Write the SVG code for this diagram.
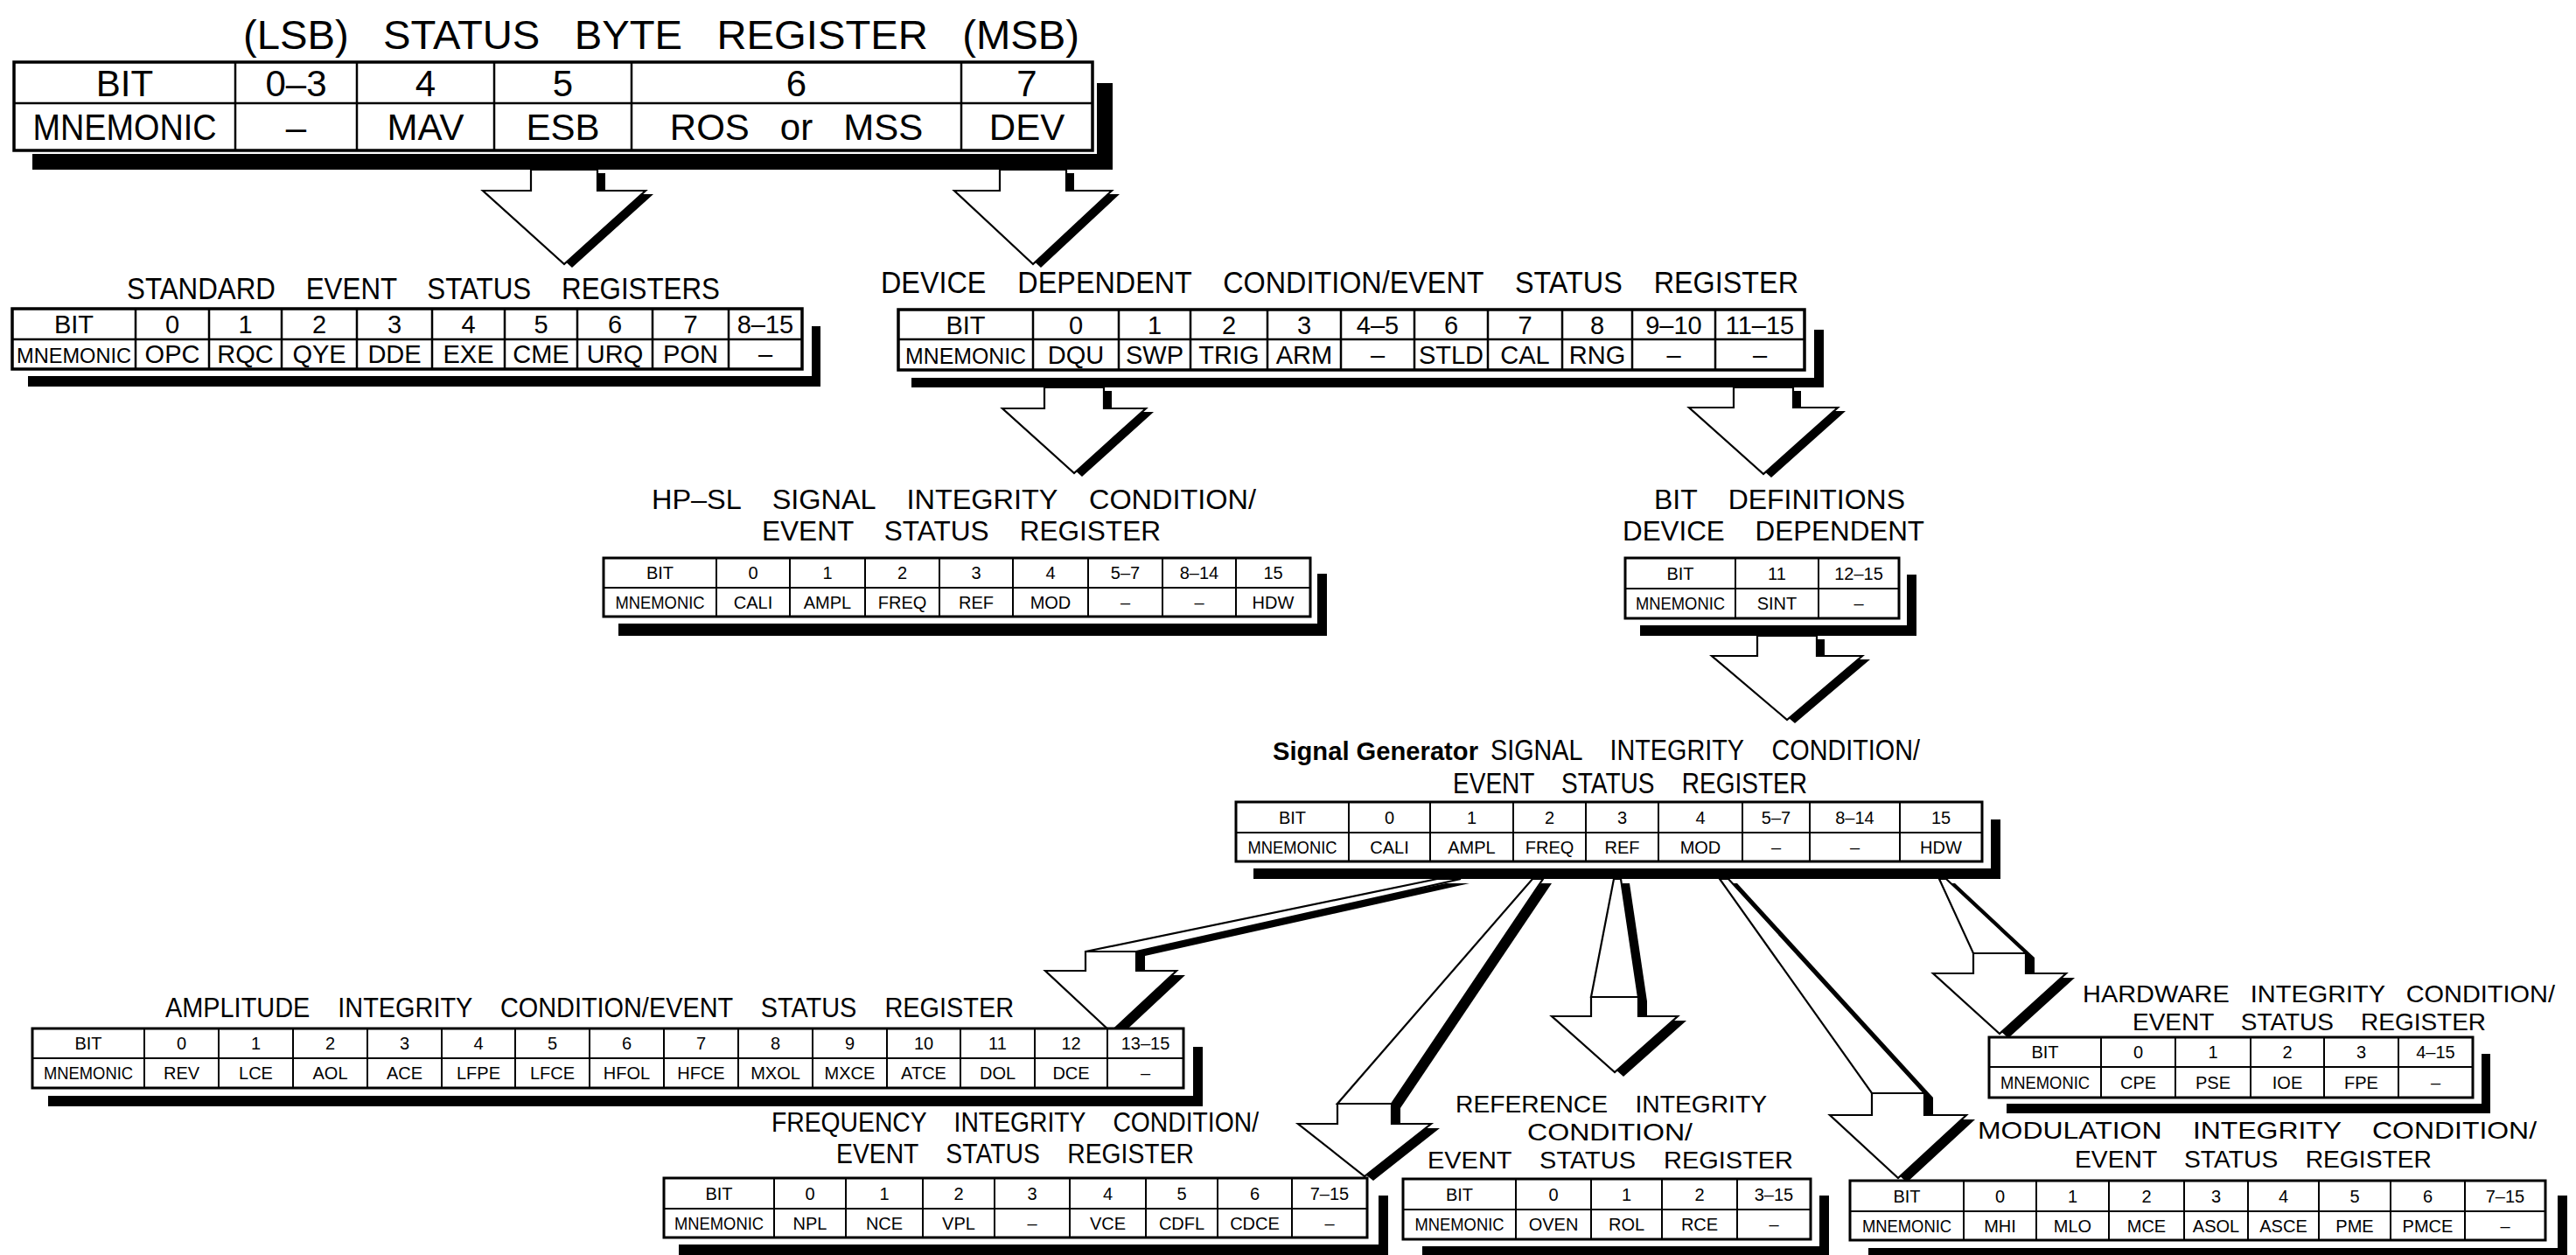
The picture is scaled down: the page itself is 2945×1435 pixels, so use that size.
<svg xmlns="http://www.w3.org/2000/svg" width="2945" height="1435" viewBox="0 0 2945 1435">
<style>
text{font-family:"Liberation Sans",Arial,Helvetica,sans-serif;fill:#000}
.ti{white-space:pre}
.c{text-anchor:middle}
.f42{font-size:42px}
.f29{font-size:29px}
.f20{font-size:20px}
.box{fill:#fff;stroke:#000;stroke-width:3.5}
.bx2{fill:#fff;stroke:#000;stroke-width:3}
.ln{stroke:#000;stroke-width:2.5;fill:none}
.ln2{stroke:#000;stroke-width:2;fill:none}
.sh{fill:#000}
.ar{fill:#fff;stroke:#000;stroke-width:2.2;stroke-linejoin:miter}
</style>
<rect width="2945" height="1435" fill="#fff"/>

<g id="connectors">
  <g class="sh">
    <polygon points="616,198 692,198 692,222 747,222 654,306 561,222 616,222"/>
    <polygon points="1152,198 1228,198 1228,222 1280,222 1190,306 1100,222 1152,222"/>
    <polygon points="1203,447 1271,447 1271,471 1319,471 1237,545 1155,471 1203,471"/>
    <polygon points="1991,447 2059,447 2059,470 2110,470 2025,546 1940,470 1991,470"/>
    <polygon points="2018,731 2086,731 2086,754 2138,754 2052,827 1966,754 2018,754"/>
    <polygon points="1653,1010 1680,1010 1309,1093 1251,1093"/>
    <polygon points="1251,1093 1309,1093 1309,1115 1355,1115 1280,1185 1205,1115 1251,1115"/>
    <polygon points="1762,1010 1774,1010 1601,1267 1539,1267"/>
    <polygon points="1539,1267 1601,1267 1601,1290 1646,1290 1570,1350 1494,1290 1539,1290"/>
    <polygon points="1855,1010 1863,1010 1883,1145 1829,1145"/>
    <polygon points="1829,1145 1883,1145 1883,1167 1928,1167 1856,1231 1784,1167 1829,1167"/>
    <polygon points="1976,1010 1986,1010 2210,1255 2150,1255"/>
    <polygon points="2150,1255 2210,1255 2210,1280 2258,1280 2180,1352 2102,1280 2150,1280"/>
    <polygon points="2227,1010 2235,1010 2326,1095 2266,1095"/>
    <polygon points="2266,1095 2326,1095 2326,1118 2372,1118 2296,1187 2220,1118 2266,1118"/>
  </g>
  <polygon class="ar" points="607,194 683,194 683,218 738,218 645,302 552,218 607,218"/>
  <polygon class="ar" points="1143,194 1219,194 1219,218 1271,218 1181,302 1091,218 1143,218"/>
  <polygon class="ar" points="1194,443 1262,443 1262,467 1310,467 1228,541 1146,467 1194,467"/>
  <polygon class="ar" points="1982,443 2050,443 2050,466 2101,466 2016,542 1931,466 1982,466"/>
  <polygon class="ar" points="2009,727 2077,727 2077,750 2129,750 2043,823 1957,750 2009,750"/>
  <polygon class="ar" points="1643,1005 1670,1005 1299,1088 1241,1088"/>
  <polygon class="ar" points="1241,1088 1299,1088 1299,1110 1345,1110 1270,1180 1195,1110 1241,1110"/>
  <polygon class="ar" points="1752,1005 1764,1005 1591,1262 1529,1262"/>
  <polygon class="ar" points="1529,1262 1591,1262 1591,1285 1636,1285 1560,1345 1484,1285 1529,1285"/>
  <polygon class="ar" points="1845,1005 1853,1005 1873,1140 1819,1140"/>
  <polygon class="ar" points="1819,1140 1873,1140 1873,1162 1918,1162 1846,1226 1774,1162 1819,1162"/>
  <polygon class="ar" points="1966,1005 1976,1005 2200,1250 2140,1250"/>
  <polygon class="ar" points="2140,1250 2200,1250 2200,1275 2248,1275 2170,1347 2092,1275 2140,1275"/>
  <polygon class="ar" points="2217,1005 2225,1005 2316,1090 2256,1090"/>
  <polygon class="ar" points="2256,1090 2316,1090 2316,1113 2362,1113 2286,1182 2210,1113 2256,1113"/>
</g>

<g id="status-byte-register">
  <text class="ti" x="278" y="56" font-size="46" textLength="956" lengthAdjust="spacingAndGlyphs" xml:space="preserve">(LSB)   STATUS   BYTE   REGISTER   (MSB)</text>
  <polygon class="sh" points="1254,95 1272,95 1272,194 37,194 37,176 1254,176"/>
  <rect class="box" x="16" y="71" width="1233" height="101"/>
  <path class="ln" d="M16 118H1249M269 71V172M408 71V172M565 71V172M722 71V172M1099 71V172"/>
  <g class="c f42">
    <text x="142.5" y="110">BIT</text><text x="338.5" y="110">0–3</text><text x="486.5" y="110">4</text><text x="643.5" y="110">5</text><text x="910.5" y="110">6</text><text x="1174" y="110">7</text>
    <text x="142.5" y="160" textLength="210" lengthAdjust="spacingAndGlyphs">MNEMONIC</text><text x="338.5" y="160">–</text><text x="486.5" y="160">MAV</text><text x="643.5" y="160">ESB</text><text x="910.5" y="160" xml:space="preserve" class="ti">ROS   or   MSS</text><text x="1174" y="160">DEV</text>
  </g>
</g>

<g id="standard-event-status">
  <text class="ti" x="145" y="342" font-size="35" textLength="678" lengthAdjust="spacingAndGlyphs" xml:space="preserve">STANDARD    EVENT    STATUS    REGISTERS</text>
  <polygon class="sh" points="928,373 938,373 938,442 32,442 32,430 928,430"/>
  <rect class="box" x="14" y="353" width="903" height="69"/>
  <path class="ln" d="M14 388H917M155 353V422M239 353V422M322 353V422M408 353V422M494 353V422M577 353V422M660 353V422M746 353V422M833 353V422"/>
  <g class="c f29">
    <text x="84.5" y="381">BIT</text><text x="197" y="381">0</text><text x="280.5" y="381">1</text><text x="365" y="381">2</text><text x="451" y="381">3</text><text x="535.5" y="381">4</text><text x="618.5" y="381">5</text><text x="703" y="381">6</text><text x="789.5" y="381">7</text><text x="875" y="381">8–15</text>
    <text x="84.5" y="415" font-size="24" textLength="131" lengthAdjust="spacingAndGlyphs">MNEMONIC</text><text x="197" y="415">OPC</text><text x="280.5" y="415">RQC</text><text x="365" y="415">QYE</text><text x="451" y="415">DDE</text><text x="535.5" y="415">EXE</text><text x="618.5" y="415">CME</text><text x="703" y="415">URQ</text><text x="789.5" y="415">PON</text><text x="875" y="415">–</text>
  </g>
</g>

<g id="device-dependent">
  <text class="ti" x="1007" y="335" font-size="35" textLength="1049" lengthAdjust="spacingAndGlyphs" xml:space="preserve">DEVICE    DEPENDENT    CONDITION/EVENT    STATUS    REGISTER</text>
  <polygon class="sh" points="2074,377 2085,377 2085,443 1042,443 1042,432 2074,432"/>
  <rect class="box" x="1027" y="354" width="1036" height="69"/>
  <path class="ln" d="M1027 388H2063M1181 354V423M1279 354V423M1361 354V423M1449 354V423M1533 354V423M1617 354V423M1701 354V423M1786 354V423M1866 354V423M1961 354V423"/>
  <g class="c f29">
    <text x="1104" y="381.5">BIT</text><text x="1230" y="381.5">0</text><text x="1320" y="381.5">1</text><text x="1405" y="381.5">2</text><text x="1491" y="381.5">3</text><text x="1575" y="381.5">4–5</text><text x="1659" y="381.5">6</text><text x="1743.5" y="381.5">7</text><text x="1826" y="381.5">8</text><text x="1913.5" y="381.5">9–10</text><text x="2012" y="381.5">11–15</text>
    <text x="1104" y="416" font-size="25" textLength="138" lengthAdjust="spacingAndGlyphs">MNEMONIC</text><text x="1230" y="416">DQU</text><text x="1320" y="416">SWP</text><text x="1405" y="416">TRIG</text><text x="1491" y="416">ARM</text><text x="1575" y="416">–</text><text x="1659" y="416">STLD</text><text x="1743.5" y="416">CAL</text><text x="1826" y="416">RNG</text><text x="1913.5" y="416">–</text><text x="2012" y="416">–</text>
  </g>
</g>

<g id="hpsl-signal-integrity">
  <text class="ti" x="745" y="582" font-size="31" textLength="691" lengthAdjust="spacingAndGlyphs" xml:space="preserve">HP–SL    SIGNAL    INTEGRITY    CONDITION/</text>
  <text class="ti" x="871" y="618" font-size="31" textLength="456" lengthAdjust="spacingAndGlyphs" xml:space="preserve">EVENT    STATUS    REGISTER</text>
  <polygon class="sh" points="1506,656 1517,656 1517,727 707,727 707,713 1506,713"/>
  <rect class="bx2" x="690" y="638" width="808" height="67"/>
  <path class="ln2" d="M690 672H1498M819 638V705M903 638V705M989 638V705M1074 638V705M1158 638V705M1244 638V705M1329 638V705M1413 638V705"/>
  <g class="c f20">
    <text x="754.5" y="662">BIT</text><text x="861" y="662">0</text><text x="946" y="662">1</text><text x="1031.5" y="662">2</text><text x="1116" y="662">3</text><text x="1201" y="662">4</text><text x="1286.5" y="662">5–7</text><text x="1371" y="662">8–14</text><text x="1455.5" y="662">15</text>
    <text x="754.5" y="695.5" textLength="102" lengthAdjust="spacingAndGlyphs">MNEMONIC</text><text x="861" y="695.5">CALI</text><text x="946" y="695.5">AMPL</text><text x="1031.5" y="695.5">FREQ</text><text x="1116" y="695.5">REF</text><text x="1201" y="695.5">MOD</text><text x="1286.5" y="695.5">–</text><text x="1371" y="695.5">–</text><text x="1455.5" y="695.5">HDW</text>
  </g>
</g>

<g id="bit-definitions">
  <text class="ti" x="1891" y="582" font-size="31" textLength="287" lengthAdjust="spacingAndGlyphs" xml:space="preserve">BIT    DEFINITIONS</text>
  <text class="ti" x="1855" y="618" font-size="31" textLength="345" lengthAdjust="spacingAndGlyphs" xml:space="preserve">DEVICE    DEPENDENT</text>
  <polygon class="sh" points="2180,657 2191,657 2191,727 1875,727 1875,715 2180,715"/>
  <rect class="bx2" x="1858" y="638" width="313" height="69"/>
  <path class="ln2" d="M1858 673H2171M1984 638V707M2079 638V707"/>
  <g class="c f20">
    <text x="1921" y="663">BIT</text><text x="2031.5" y="663">11</text><text x="2125" y="663">12–15</text>
    <text x="1921" y="697" textLength="102" lengthAdjust="spacingAndGlyphs">MNEMONIC</text><text x="2031.5" y="697">SINT</text><text x="2125" y="697">–</text>
  </g>
</g>

<g id="signal-generator-integrity">
  <text x="1455" y="869" font-size="30" font-weight="bold" textLength="235" lengthAdjust="spacingAndGlyphs">Signal Generator</text>
  <text class="ti" x="1704" y="869" font-size="33" textLength="491" lengthAdjust="spacingAndGlyphs" xml:space="preserve">SIGNAL    INTEGRITY    CONDITION/</text>
  <text class="ti" x="1661" y="907" font-size="33" textLength="405" lengthAdjust="spacingAndGlyphs" xml:space="preserve">EVENT    STATUS    REGISTER</text>
  <polygon class="sh" points="2276,937 2287,937 2287,1005 1433,1005 1433,993 2276,993"/>
  <rect class="bx2" x="1413" y="917" width="853" height="68"/>
  <path class="ln2" d="M1413 952H2266M1542 917V985M1635 917V985M1730 917V985M1813 917V985M1896 917V985M1992 917V985M2069 917V985M2172 917V985"/>
  <g class="c f20">
    <text x="1477.5" y="942">BIT</text><text x="1588.5" y="942">0</text><text x="1682.5" y="942">1</text><text x="1771.5" y="942">2</text><text x="1854.5" y="942">3</text><text x="1944" y="942">4</text><text x="2030.5" y="942">5–7</text><text x="2120.5" y="942">8–14</text><text x="2219" y="942">15</text>
    <text x="1477.5" y="976" textLength="102" lengthAdjust="spacingAndGlyphs">MNEMONIC</text><text x="1588.5" y="976">CALI</text><text x="1682.5" y="976">AMPL</text><text x="1771.5" y="976">FREQ</text><text x="1854.5" y="976">REF</text><text x="1944" y="976">MOD</text><text x="2030.5" y="976">–</text><text x="2120.5" y="976">–</text><text x="2219" y="976">HDW</text>
  </g>
</g>

<g id="amplitude-integrity">
  <text class="ti" x="189" y="1163" font-size="31" textLength="970" lengthAdjust="spacingAndGlyphs" xml:space="preserve">AMPLITUDE    INTEGRITY    CONDITION/EVENT    STATUS    REGISTER</text>
  <polygon class="sh" points="1364,1197 1375,1197 1375,1265 55,1265 55,1253 1364,1253"/>
  <rect class="bx2" x="37" y="1176" width="1316" height="68"/>
  <path class="ln2" d="M37 1210H1353M165 1176V1244M250 1176V1244M335 1176V1244M420 1176V1244M505 1176V1244M589 1176V1244M674 1176V1244M759 1176V1244M844 1176V1244M929 1176V1244M1014 1176V1244M1098 1176V1244M1183 1176V1244M1266 1176V1244"/>
  <g class="c f20">
    <text x="101" y="1200">BIT</text><text x="207.5" y="1200">0</text><text x="292.5" y="1200">1</text><text x="377.5" y="1200">2</text><text x="462.5" y="1200">3</text><text x="547" y="1200">4</text><text x="631.5" y="1200">5</text><text x="716.5" y="1200">6</text><text x="801.5" y="1200">7</text><text x="886.5" y="1200">8</text><text x="971.5" y="1200">9</text><text x="1056" y="1200">10</text><text x="1140.5" y="1200">11</text><text x="1224.5" y="1200">12</text><text x="1309.5" y="1200">13–15</text>
    <text x="101" y="1234" textLength="102" lengthAdjust="spacingAndGlyphs">MNEMONIC</text><text x="207.5" y="1234">REV</text><text x="292.5" y="1234">LCE</text><text x="377.5" y="1234">AOL</text><text x="462.5" y="1234">ACE</text><text x="547" y="1234">LFPE</text><text x="631.5" y="1234">LFCE</text><text x="716.5" y="1234">HFOL</text><text x="801.5" y="1234">HFCE</text><text x="886.5" y="1234">MXOL</text><text x="971.5" y="1234">MXCE</text><text x="1056" y="1234">ATCE</text><text x="1140.5" y="1234">DOL</text><text x="1224.5" y="1234">DCE</text><text x="1309.5" y="1234">–</text>
  </g>
</g>

<g id="frequency-integrity">
  <text class="ti" x="882" y="1294" font-size="31" textLength="557" lengthAdjust="spacingAndGlyphs" xml:space="preserve">FREQUENCY    INTEGRITY    CONDITION/</text>
  <text class="ti" x="956" y="1330" font-size="31" textLength="409" lengthAdjust="spacingAndGlyphs" xml:space="preserve">EVENT    STATUS    REGISTER</text>
  <polygon class="sh" points="1576,1367 1587,1367 1587,1440 776,1440 776,1423 1576,1423"/>
  <rect class="bx2" x="759" y="1347" width="804" height="68"/>
  <path class="ln2" d="M759 1382H1563M885 1347V1415M967 1347V1415M1055 1347V1415M1137 1347V1415M1223 1347V1415M1310 1347V1415M1392 1347V1415M1477 1347V1415"/>
  <g class="c f20">
    <text x="822" y="1372">BIT</text><text x="926" y="1372">0</text><text x="1011" y="1372">1</text><text x="1096" y="1372">2</text><text x="1180" y="1372">3</text><text x="1266.5" y="1372">4</text><text x="1351" y="1372">5</text><text x="1434.5" y="1372">6</text><text x="1520" y="1372">7–15</text>
    <text x="822" y="1406" textLength="102" lengthAdjust="spacingAndGlyphs">MNEMONIC</text><text x="926" y="1406">NPL</text><text x="1011" y="1406">NCE</text><text x="1096" y="1406">VPL</text><text x="1180" y="1406">–</text><text x="1266.5" y="1406">VCE</text><text x="1351" y="1406">CDFL</text><text x="1434.5" y="1406">CDCE</text><text x="1520" y="1406">–</text>
  </g>
</g>

<g id="reference-integrity">
  <text class="ti" x="1664" y="1272" font-size="28" textLength="356" lengthAdjust="spacingAndGlyphs" xml:space="preserve">REFERENCE    INTEGRITY</text>
  <text x="1746" y="1304" font-size="28" textLength="189" lengthAdjust="spacingAndGlyphs">CONDITION/</text>
  <text class="ti" x="1632" y="1336" font-size="28" textLength="418" lengthAdjust="spacingAndGlyphs" xml:space="preserve">EVENT    STATUS    REGISTER</text>
  <polygon class="sh" points="2080,1367 2091,1367 2091,1440 1626,1440 1626,1425 2080,1425"/>
  <rect class="bx2" x="1604" y="1348" width="466" height="69"/>
  <path class="ln2" d="M1604 1383H2070M1733 1348V1417M1819 1348V1417M1900 1348V1417M1986 1348V1417"/>
  <g class="c f20">
    <text x="1668.5" y="1373">BIT</text><text x="1776" y="1373">0</text><text x="1859.5" y="1373">1</text><text x="1943" y="1373">2</text><text x="2028" y="1373">3–15</text>
    <text x="1668.5" y="1407" textLength="102" lengthAdjust="spacingAndGlyphs">MNEMONIC</text><text x="1776" y="1407">OVEN</text><text x="1859.5" y="1407">ROL</text><text x="1943" y="1407">RCE</text><text x="2028" y="1407">–</text>
  </g>
</g>

<g id="modulation-integrity">
  <text class="ti" x="2261" y="1302" font-size="28.5" textLength="639" lengthAdjust="spacingAndGlyphs" xml:space="preserve">MODULATION    INTEGRITY    CONDITION/</text>
  <text class="ti" x="2372" y="1335" font-size="28.5" textLength="408" lengthAdjust="spacingAndGlyphs" xml:space="preserve">EVENT    STATUS    REGISTER</text>
  <polygon class="sh" points="2924,1367 2935,1367 2935,1440 2136,1440 2136,1427 2924,1427"/>
  <rect class="bx2" x="2115" y="1350" width="795" height="68"/>
  <path class="ln2" d="M2115 1385H2910M2245 1350V1418M2328 1350V1418M2411 1350V1418M2497 1350V1418M2570 1350V1418M2651 1350V1418M2733 1350V1418M2818 1350V1418"/>
  <g class="c f20">
    <text x="2180" y="1375">BIT</text><text x="2286.5" y="1375">0</text><text x="2369.5" y="1375">1</text><text x="2454" y="1375">2</text><text x="2533.5" y="1375">3</text><text x="2610.5" y="1375">4</text><text x="2692" y="1375">5</text><text x="2775.5" y="1375">6</text><text x="2864" y="1375">7–15</text>
    <text x="2180" y="1409" textLength="102" lengthAdjust="spacingAndGlyphs">MNEMONIC</text><text x="2286.5" y="1409">MHI</text><text x="2369.5" y="1409">MLO</text><text x="2454" y="1409">MCE</text><text x="2533.5" y="1409">ASOL</text><text x="2610.5" y="1409">ASCE</text><text x="2692" y="1409">PME</text><text x="2775.5" y="1409">PMCE</text><text x="2864" y="1409">–</text>
  </g>
</g>

<g id="hardware-integrity">
  <text class="ti" x="2381" y="1146" font-size="28" textLength="540" lengthAdjust="spacingAndGlyphs" xml:space="preserve">HARDWARE   INTEGRITY   CONDITION/</text>
  <text class="ti" x="2438" y="1178" font-size="28" textLength="404" lengthAdjust="spacingAndGlyphs" xml:space="preserve">EVENT    STATUS    REGISTER</text>
  <polygon class="sh" points="2837,1205 2847,1205 2847,1273 2294,1273 2294,1262 2837,1262"/>
  <rect class="bx2" x="2274" y="1186" width="553" height="69"/>
  <path class="ln2" d="M2274 1220H2827M2402 1186V1255M2487 1186V1255M2573 1186V1255M2657 1186V1255M2742 1186V1255"/>
  <g class="c f20">
    <text x="2338" y="1210">BIT</text><text x="2444.5" y="1210">0</text><text x="2530" y="1210">1</text><text x="2615" y="1210">2</text><text x="2699.5" y="1210">3</text><text x="2784.5" y="1210">4–15</text>
    <text x="2338" y="1245" textLength="102" lengthAdjust="spacingAndGlyphs">MNEMONIC</text><text x="2444.5" y="1245">CPE</text><text x="2530" y="1245">PSE</text><text x="2615" y="1245">IOE</text><text x="2699.5" y="1245">FPE</text><text x="2784.5" y="1245">–</text>
  </g>
</g>
</svg>
